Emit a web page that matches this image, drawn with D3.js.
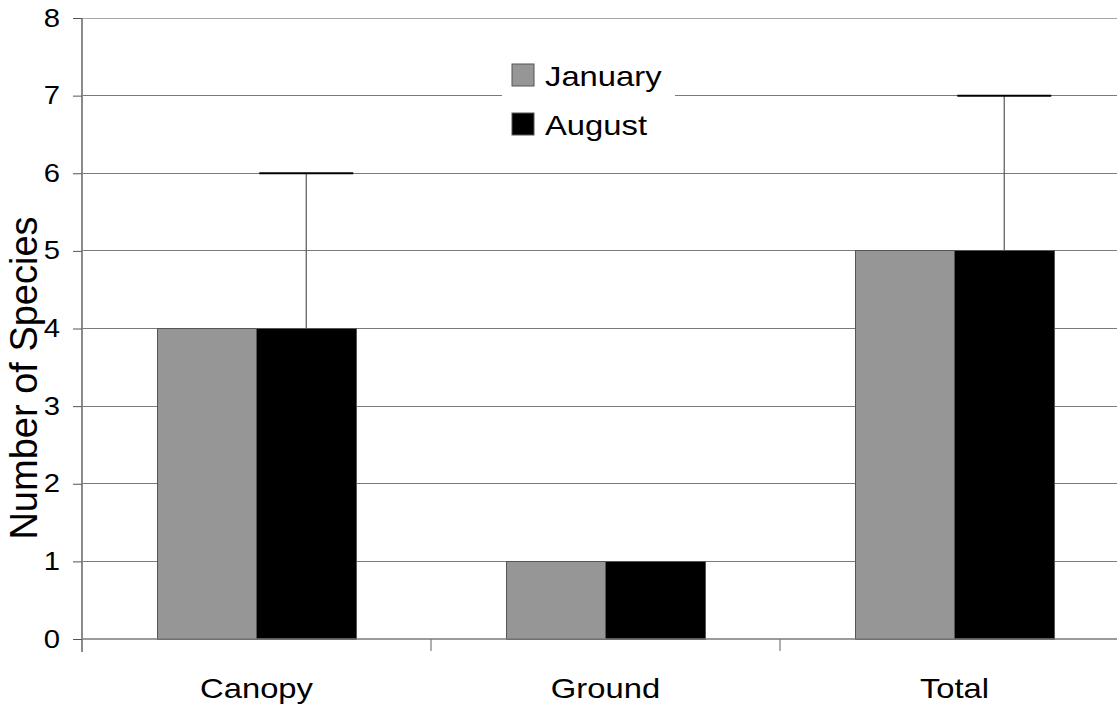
<!DOCTYPE html>
<html>
<head>
<meta charset="utf-8">
<script src="https://cdn.jsdelivr.net/npm/d3@7"></script>
<style>
  body { margin: 0; background: #fff; }
  text { font-family: "Liberation Sans", Arial, sans-serif; fill: #000; }
</style>
</head>
<body>
<div id="container"></div>
<script>
let categories = ["Canopy", "Ground", "Total"];
let seriesNames = ["January", "August"];
let january = [4, 1, 5];
let august = [4, 1, 5];
let augustErrUp = [2, 0, 2];
let yTicks = [0, 1, 2, 3, 4, 5, 6, 7, 8];

let w = 1117;
let h = 708;
let left = 82;
let bandW = 349;
let sx = 1.17; // labels in the picture are a bit wider than tall

let viz = d3.select("#container")
  .append("svg")
    .attr("width", w)
    .attr("height", h)
    .style("display", "block")
    .style("background-color", "white")
;

let xScale = d3.scaleBand().domain(categories).range([left, left + bandW * categories.length]).padding(0);
let xInner = d3.scaleBand().domain(seriesNames).range([-99.5, 99.5]);
let yScale = d3.scaleLinear().domain([0, 8]).range([639, 18]);

// gridlines
viz.append("g").selectAll("line").data(yTicks.filter(d => d > 0)).enter()
  .append("line")
    .attr("x1", left).attr("x2", w)
    .attr("y1", d => yScale(d)).attr("y2", d => yScale(d))
    .attr("stroke", d => d == 8 ? "#a8a8a8" : "#7a7a7a")
    .attr("stroke-width", 1)
    .attr("shape-rendering", "crispEdges")
;

// bars
let rows = categories.map((c, i) => ({cat: c, January: january[i], August: august[i], err: augustErrUp[i]}));
let fills = {January: "#969696", August: "#000000"};

let groups = viz.append("g").selectAll("g").data(rows).enter()
  .append("g")
    .attr("transform", d => "translate(" + (xScale(d.cat) + xScale.bandwidth() / 2) + ",0)");

groups.selectAll("rect").data(d => seriesNames.map(s => ({s: s, v: d[s]}))).enter()
  .append("rect")
    .attr("x", d => xInner(d.s))
    .attr("width", xInner.bandwidth())
    .attr("y", d => yScale(d.v))
    .attr("height", d => yScale(0) - yScale(d.v))
    .attr("fill", d => fills[d.s])
    .attr("stroke", "#555")
    .attr("stroke-width", 1)
    .attr("shape-rendering", "crispEdges")
;

// error bars on August
let errs = groups.filter(d => d.err > 0);
let augX = xInner("August") + xInner.bandwidth() / 2;
errs.append("line")
    .attr("x1", augX).attr("x2", augX)
    .attr("y1", d => yScale(d.August)).attr("y2", d => yScale(d.August + d.err))
    .attr("stroke", "#555").attr("stroke-width", 1.2)
;
errs.append("line")
    .attr("x1", augX - 47).attr("x2", augX + 47)
    .attr("y1", d => yScale(d.August + d.err)).attr("y2", d => yScale(d.August + d.err))
    .attr("stroke", "#000").attr("stroke-width", 2)
;

// x axis
let xAxisGroup = viz.append("g").attr("transform", "translate(0," + yScale(0) + ")");
xAxisGroup.append("line").attr("x1", left).attr("x2", w).attr("y1", 0).attr("y2", 0)
  .attr("stroke", "#7a7a7a").attr("stroke-width", 1.5);
xAxisGroup.selectAll(".tk").data(categories).enter()
  .append("line")
    .attr("x1", d => xScale(d)).attr("x2", d => xScale(d))
    .attr("y1", 0).attr("y2", 12)
    .attr("stroke", "#7a7a7a").attr("stroke-width", 1.2)
;
xAxisGroup.selectAll("text").data(categories).enter()
  .append("text")
    .attr("transform", d => "translate(" + (xScale(d) + xScale.bandwidth() / 2) + ",59) scale(" + sx + ",1)")
    .attr("text-anchor", "middle")
    .style("font-size", "28px")
    .text(d => d)
;

// y axis
let yAxisGroup = viz.append("g").attr("transform", "translate(" + left + ",0)");
let yAxis = d3.axisLeft(yScale).tickValues(yTicks).tickSize(9).tickPadding(11);
yAxisGroup.call(yAxis);
yAxisGroup.select(".domain").attr("d", "M0," + yScale(8) + "V" + (yScale(0) + 13))
  .attr("stroke", "#8a8a8a").attr("stroke-width", 2);
yAxisGroup.selectAll(".tick line").attr("stroke", "#555").attr("stroke-width", 1);
yAxisGroup.selectAll(".tick text")
  .style("font-size", "25px")
  .attr("font-family", null)
  .attr("transform", "scale(" + sx + ",1)")
  .attr("x", -22 / sx)
;

viz.append("text")
  .attr("transform", "translate(37,378) rotate(-90)")
  .attr("text-anchor", "middle")
  .style("font-size", "38px")
  .text("Number of Species")
;

// legend
let legend = viz.append("g").attr("transform", "translate(502,55)");
legend.append("rect").attr("width", 173).attr("height", 90).attr("fill", "white");
let items = legend.selectAll(".item").data(seriesNames).enter()
  .append("g")
    .attr("transform", (d, i) => "translate(10," + (9 + i * 49) + ")");
items.append("rect")
  .attr("width", 22).attr("height", 22)
  .attr("fill", d => fills[d])
  .attr("stroke", "#555").attr("stroke-width", 1);
items.append("text")
  .attr("transform", "translate(33,22) scale(" + sx + ",1)")
  .style("font-size", "28px")
  .text(d => d);
</script>
</body>
</html>
